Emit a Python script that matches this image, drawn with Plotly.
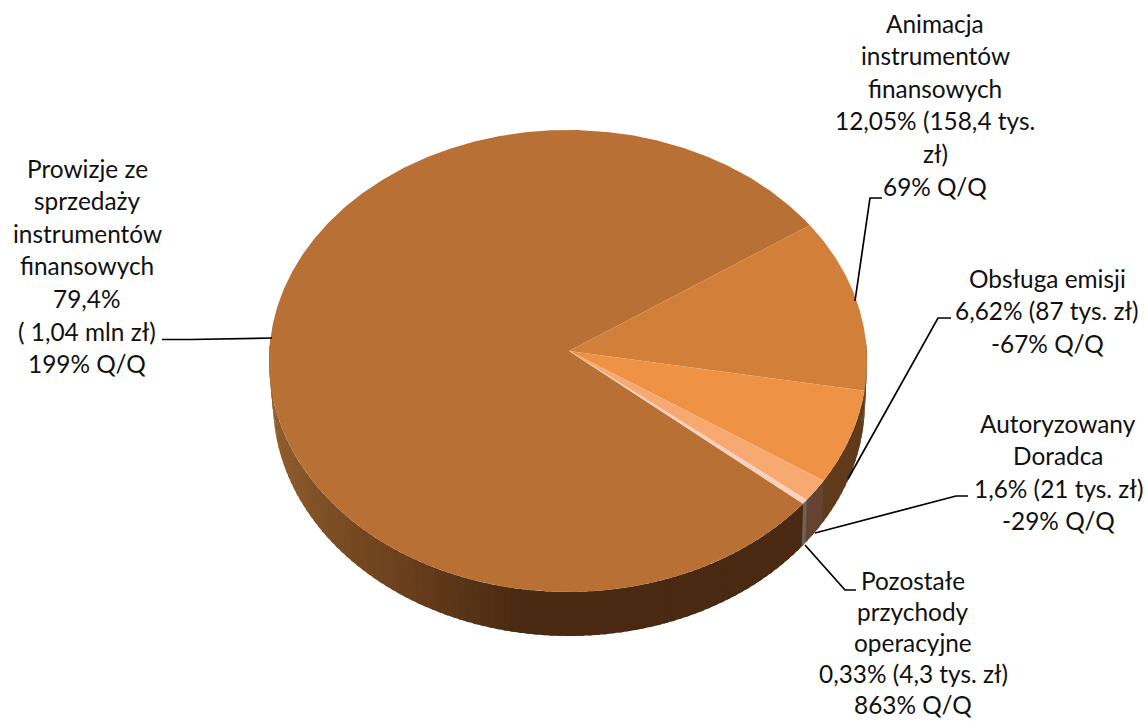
import numpy as np
import plotly.graph_objects as go

# ---- data ----
categories = ["Animacja instrumentów finansowych", "Obsługa emisji", "Autoryzowany Doradca",
              "Pozostałe przychody operacyjne", "Prowizje ze sprzedaży instrumentów finansowych"]
shares = [12.05, 6.62, 1.6, 0.33, 79.4]
top_colors = ["#D17F39", "#EE9345", "#F8A971", "#FBD0BC", "#B97034"]
side_colors = ["#673D1A", "#5F3A1B", "#644330", "#6E6258", None]

label_lines = [
    ["Animacja", "instrumentów", "finansowych", "12,05% (158,4 tys.", "zł)", "69% Q/Q"],
    ["Obsługa emisji", "6,62% (87 tys. zł)", "-67% Q/Q"],
    ["Autoryzowany", "Doradca", "1,6% (21 tys. zł)", "-29% Q/Q"],
    ["Pozostałe", "przychody", "operacyjne", "0,33% (4,3 tys. zł)", "863% Q/Q"],
    ["Prowizje ze", "sprzedaży", "instrumentów", "finansowych", "79,4%", "( 1,04 mln zł)", "199% Q/Q"],
]
label_x = [935, 1047, 1058, 913, 87]
label_y0 = [23, 278, 423, 580, 168]
label_step = [32.6, 32.6, 32.6, 31.2, 32.6]
leaders = [
    ([882, 870, 855], [198, 198, 301]),
    ([951, 938, 848], [318, 318, 479]),
    ([968, 956, 815], [496, 496, 533]),
    ([856, 845, 805], [590, 590, 545]),
    ([162, 190, 272], [339.5, 339.5, 338]),
]

# ---- pie geometry ----
W, H = 1145, 721
TOP = dict(cx=568, cy=361, rx=299, ry=231)
BOT = dict(cx=569, cy=402, rx=296, ry=234)
APEX = (569, 351)
START = 36.0


def pt(e, deg):
    r = np.radians(deg)
    return e["cx"] + e["rx"] * np.cos(r), e["cy"] - e["ry"] * np.sin(r)


def main_side(deg):
    t = deg % 360
    return [np.interp(t, [175, 201, 236, 261, 360], c) for c in
            ([0x96, 0x8A, 0x6B, 0x49, 0x49], [0x60, 0x5A, 0x40, 0x29, 0x29], [0x2D, 0x2B, 0x1D, 0x11, 0x11])]


fig = go.Figure()


def poly(xs, ys, color, name):
    fig.add_trace(go.Scatter(x=xs, y=ys, mode="lines", fill="toself", fillcolor=color,
                             line=dict(color=color, width=0), hoverinfo="skip",
                             showlegend=False, name=name))


bounds = START - 3.6 * np.concatenate([[0], np.cumsum(shares)])

# side wall: strips painted in sweep order, each overlapping the next so no seams show
for i in [4, 3, 2, 1, 0]:
    a, b = bounds[i], bounds[i + 1]
    n = max(1, int(abs(b - a) / 1.5))
    edges = np.linspace(b, a, n + 1)  # sweep counter-clockwise
    for s, e in zip(edges[:-1], edges[1:]):
        mid = (s + e) / 2
        if np.sin(np.radians(mid)) > 0.09:
            continue
        ang = np.linspace(s, e + 0.8, 3)
        tx, ty = pt(TOP, ang)
        bx, by = pt(BOT, ang)
        if side_colors[i]:
            col = side_colors[i]
        else:
            r, g, bl = main_side(mid)
            col = f"rgb({r:.0f},{g:.0f},{bl:.0f})"
        poly(list(tx) + list(bx[::-1]), list(ty) + list(by[::-1]), col, categories[i])

# top face (largest slice first so thin ones stay visible)
for i in [4, 0, 1, 2, 3]:
    ang = np.linspace(bounds[i], bounds[i + 1], max(3, int(abs(bounds[i + 1] - bounds[i]) * 2)))
    x, y = pt(TOP, ang)
    poly([APEX[0]] + list(x) + [APEX[0]], [APEX[1]] + list(y) + [APEX[1]], top_colors[i], categories[i])

# leader lines and labels
shapes = []
for xs, ys in leaders:
    path = "M " + " L ".join(f"{x} {y}" for x, y in zip(xs, ys))
    shapes.append(dict(type="path", path=path, xref="x", yref="y",
                       line=dict(color="#000000", width=1.7)))

annotations = []
for lines, lx, ly, step in zip(label_lines, label_x, label_y0, label_step):
    for k, line in enumerate(lines):
        annotations.append(dict(x=lx, y=ly + k * step, xref="x", yref="y", text=line,
                                showarrow=False, xanchor="center", yanchor="middle",
                                font=dict(family="Lato", size=24.4, color="#111111")))

fig.update_layout(
    width=W, height=H, margin=dict(l=0, r=0, t=0, b=0), autosize=False,
    paper_bgcolor="white", plot_bgcolor="white", showlegend=False,
    xaxis=dict(range=[0, W], visible=False, fixedrange=True),
    yaxis=dict(range=[H, 0], visible=False, fixedrange=True),
    shapes=shapes, annotations=annotations,
)
fig.write_html("out.html", config={"displayModeBar": False},
               post_script="document.body.style.margin='0';document.body.style.overflow='hidden';")
